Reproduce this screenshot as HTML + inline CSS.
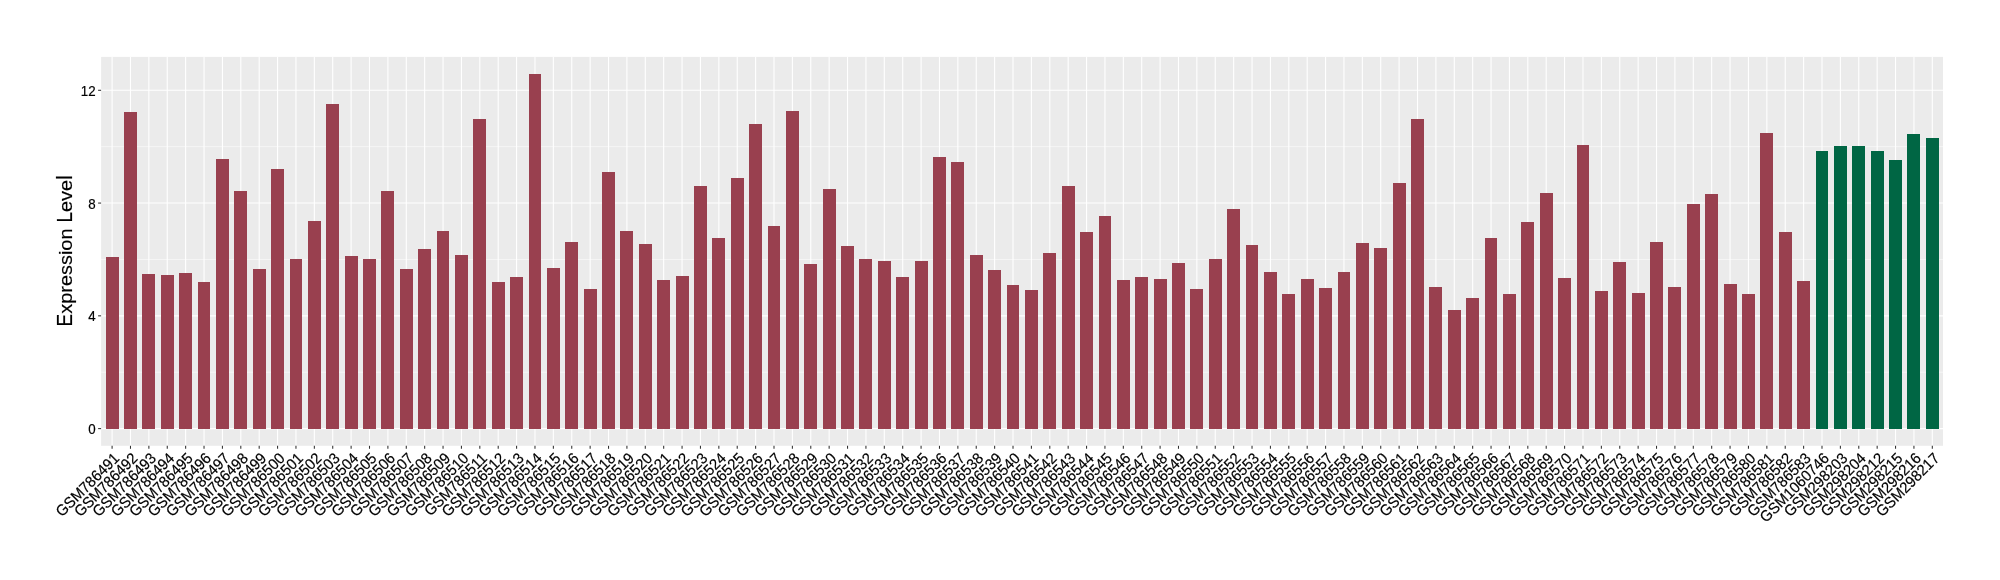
<!DOCTYPE html>
<html><head><meta charset="utf-8"><title>Expression Level</title>
<style>
html,body{margin:0;padding:0;background:#fff;}
body{width:2000px;height:580px;overflow:hidden;}
#w{will-change:transform;width:2000px;height:580px;}
svg{display:block;}
text{font-family:"Liberation Sans",sans-serif;fill:#000;stroke:#000;stroke-width:0.18px;}
.ax{font-size:13.33px;}
.axx{font-size:14.67px;}
.ti{font-size:19.90px;}
</style></head>
<body>
<div id="w">
<svg width="2000" height="580" viewBox="0 0 2000 580">
<rect x="101.10" y="56.90" width="1841.90" height="388.90" fill="#EBEBEB"/>
<g stroke="#ffffff" stroke-width="0.55">
<line x1="101.10" x2="1943.00" y1="372.22" y2="372.22"/>
<line x1="101.10" x2="1943.00" y1="259.45" y2="259.45"/>
<line x1="101.10" x2="1943.00" y1="146.68" y2="146.68"/>
</g>
<g stroke="#ffffff" stroke-width="1.1">
<line x1="101.10" x2="1943.00" y1="428.60" y2="428.60"/>
<line x1="101.10" x2="1943.00" y1="315.83" y2="315.83"/>
<line x1="101.10" x2="1943.00" y1="203.07" y2="203.07"/>
<line x1="101.10" x2="1943.00" y1="90.30" y2="90.30"/>
<line x1="112.10" x2="112.10" y1="56.90" y2="445.80"/>
<line x1="130.49" x2="130.49" y1="56.90" y2="445.80"/>
<line x1="148.87" x2="148.87" y1="56.90" y2="445.80"/>
<line x1="167.26" x2="167.26" y1="56.90" y2="445.80"/>
<line x1="185.64" x2="185.64" y1="56.90" y2="445.80"/>
<line x1="204.03" x2="204.03" y1="56.90" y2="445.80"/>
<line x1="222.42" x2="222.42" y1="56.90" y2="445.80"/>
<line x1="240.80" x2="240.80" y1="56.90" y2="445.80"/>
<line x1="259.19" x2="259.19" y1="56.90" y2="445.80"/>
<line x1="277.57" x2="277.57" y1="56.90" y2="445.80"/>
<line x1="295.96" x2="295.96" y1="56.90" y2="445.80"/>
<line x1="314.35" x2="314.35" y1="56.90" y2="445.80"/>
<line x1="332.73" x2="332.73" y1="56.90" y2="445.80"/>
<line x1="351.12" x2="351.12" y1="56.90" y2="445.80"/>
<line x1="369.50" x2="369.50" y1="56.90" y2="445.80"/>
<line x1="387.89" x2="387.89" y1="56.90" y2="445.80"/>
<line x1="406.28" x2="406.28" y1="56.90" y2="445.80"/>
<line x1="424.66" x2="424.66" y1="56.90" y2="445.80"/>
<line x1="443.05" x2="443.05" y1="56.90" y2="445.80"/>
<line x1="461.43" x2="461.43" y1="56.90" y2="445.80"/>
<line x1="479.82" x2="479.82" y1="56.90" y2="445.80"/>
<line x1="498.21" x2="498.21" y1="56.90" y2="445.80"/>
<line x1="516.59" x2="516.59" y1="56.90" y2="445.80"/>
<line x1="534.98" x2="534.98" y1="56.90" y2="445.80"/>
<line x1="553.36" x2="553.36" y1="56.90" y2="445.80"/>
<line x1="571.75" x2="571.75" y1="56.90" y2="445.80"/>
<line x1="590.14" x2="590.14" y1="56.90" y2="445.80"/>
<line x1="608.52" x2="608.52" y1="56.90" y2="445.80"/>
<line x1="626.91" x2="626.91" y1="56.90" y2="445.80"/>
<line x1="645.29" x2="645.29" y1="56.90" y2="445.80"/>
<line x1="663.68" x2="663.68" y1="56.90" y2="445.80"/>
<line x1="682.07" x2="682.07" y1="56.90" y2="445.80"/>
<line x1="700.45" x2="700.45" y1="56.90" y2="445.80"/>
<line x1="718.84" x2="718.84" y1="56.90" y2="445.80"/>
<line x1="737.22" x2="737.22" y1="56.90" y2="445.80"/>
<line x1="755.61" x2="755.61" y1="56.90" y2="445.80"/>
<line x1="774.00" x2="774.00" y1="56.90" y2="445.80"/>
<line x1="792.38" x2="792.38" y1="56.90" y2="445.80"/>
<line x1="810.77" x2="810.77" y1="56.90" y2="445.80"/>
<line x1="829.15" x2="829.15" y1="56.90" y2="445.80"/>
<line x1="847.54" x2="847.54" y1="56.90" y2="445.80"/>
<line x1="865.93" x2="865.93" y1="56.90" y2="445.80"/>
<line x1="884.31" x2="884.31" y1="56.90" y2="445.80"/>
<line x1="902.70" x2="902.70" y1="56.90" y2="445.80"/>
<line x1="921.08" x2="921.08" y1="56.90" y2="445.80"/>
<line x1="939.47" x2="939.47" y1="56.90" y2="445.80"/>
<line x1="957.86" x2="957.86" y1="56.90" y2="445.80"/>
<line x1="976.24" x2="976.24" y1="56.90" y2="445.80"/>
<line x1="994.63" x2="994.63" y1="56.90" y2="445.80"/>
<line x1="1013.01" x2="1013.01" y1="56.90" y2="445.80"/>
<line x1="1031.40" x2="1031.40" y1="56.90" y2="445.80"/>
<line x1="1049.79" x2="1049.79" y1="56.90" y2="445.80"/>
<line x1="1068.17" x2="1068.17" y1="56.90" y2="445.80"/>
<line x1="1086.56" x2="1086.56" y1="56.90" y2="445.80"/>
<line x1="1104.94" x2="1104.94" y1="56.90" y2="445.80"/>
<line x1="1123.33" x2="1123.33" y1="56.90" y2="445.80"/>
<line x1="1141.72" x2="1141.72" y1="56.90" y2="445.80"/>
<line x1="1160.10" x2="1160.10" y1="56.90" y2="445.80"/>
<line x1="1178.49" x2="1178.49" y1="56.90" y2="445.80"/>
<line x1="1196.87" x2="1196.87" y1="56.90" y2="445.80"/>
<line x1="1215.26" x2="1215.26" y1="56.90" y2="445.80"/>
<line x1="1233.65" x2="1233.65" y1="56.90" y2="445.80"/>
<line x1="1252.03" x2="1252.03" y1="56.90" y2="445.80"/>
<line x1="1270.42" x2="1270.42" y1="56.90" y2="445.80"/>
<line x1="1288.80" x2="1288.80" y1="56.90" y2="445.80"/>
<line x1="1307.19" x2="1307.19" y1="56.90" y2="445.80"/>
<line x1="1325.58" x2="1325.58" y1="56.90" y2="445.80"/>
<line x1="1343.96" x2="1343.96" y1="56.90" y2="445.80"/>
<line x1="1362.35" x2="1362.35" y1="56.90" y2="445.80"/>
<line x1="1380.73" x2="1380.73" y1="56.90" y2="445.80"/>
<line x1="1399.12" x2="1399.12" y1="56.90" y2="445.80"/>
<line x1="1417.51" x2="1417.51" y1="56.90" y2="445.80"/>
<line x1="1435.89" x2="1435.89" y1="56.90" y2="445.80"/>
<line x1="1454.28" x2="1454.28" y1="56.90" y2="445.80"/>
<line x1="1472.66" x2="1472.66" y1="56.90" y2="445.80"/>
<line x1="1491.05" x2="1491.05" y1="56.90" y2="445.80"/>
<line x1="1509.44" x2="1509.44" y1="56.90" y2="445.80"/>
<line x1="1527.82" x2="1527.82" y1="56.90" y2="445.80"/>
<line x1="1546.21" x2="1546.21" y1="56.90" y2="445.80"/>
<line x1="1564.59" x2="1564.59" y1="56.90" y2="445.80"/>
<line x1="1582.98" x2="1582.98" y1="56.90" y2="445.80"/>
<line x1="1601.37" x2="1601.37" y1="56.90" y2="445.80"/>
<line x1="1619.75" x2="1619.75" y1="56.90" y2="445.80"/>
<line x1="1638.14" x2="1638.14" y1="56.90" y2="445.80"/>
<line x1="1656.52" x2="1656.52" y1="56.90" y2="445.80"/>
<line x1="1674.91" x2="1674.91" y1="56.90" y2="445.80"/>
<line x1="1693.30" x2="1693.30" y1="56.90" y2="445.80"/>
<line x1="1711.68" x2="1711.68" y1="56.90" y2="445.80"/>
<line x1="1730.07" x2="1730.07" y1="56.90" y2="445.80"/>
<line x1="1748.45" x2="1748.45" y1="56.90" y2="445.80"/>
<line x1="1766.84" x2="1766.84" y1="56.90" y2="445.80"/>
<line x1="1785.23" x2="1785.23" y1="56.90" y2="445.80"/>
<line x1="1803.61" x2="1803.61" y1="56.90" y2="445.80"/>
<line x1="1822.00" x2="1822.00" y1="56.90" y2="445.80"/>
<line x1="1840.38" x2="1840.38" y1="56.90" y2="445.80"/>
<line x1="1858.77" x2="1858.77" y1="56.90" y2="445.80"/>
<line x1="1877.16" x2="1877.16" y1="56.90" y2="445.80"/>
<line x1="1895.54" x2="1895.54" y1="56.90" y2="445.80"/>
<line x1="1913.93" x2="1913.93" y1="56.90" y2="445.80"/>
<line x1="1932.31" x2="1932.31" y1="56.90" y2="445.80"/>
</g>
<g fill="#99404F">
<rect x="106" y="257" width="13" height="172"/>
<rect x="124" y="112" width="13" height="317"/>
<rect x="142" y="274" width="13" height="155"/>
<rect x="161" y="275" width="13" height="154"/>
<rect x="179" y="273" width="13" height="156"/>
<rect x="198" y="282" width="12" height="147"/>
<rect x="216" y="159" width="13" height="270"/>
<rect x="234" y="191" width="13" height="238"/>
<rect x="253" y="269" width="13" height="160"/>
<rect x="271" y="169" width="13" height="260"/>
<rect x="290" y="259" width="12" height="170"/>
<rect x="308" y="221" width="13" height="208"/>
<rect x="326" y="104" width="13" height="325"/>
<rect x="345" y="256" width="13" height="173"/>
<rect x="363" y="259" width="13" height="170"/>
<rect x="381" y="191" width="13" height="238"/>
<rect x="400" y="269" width="13" height="160"/>
<rect x="418" y="249" width="13" height="180"/>
<rect x="437" y="231" width="12" height="198"/>
<rect x="455" y="255" width="13" height="174"/>
<rect x="473" y="119" width="13" height="310"/>
<rect x="492" y="282" width="13" height="147"/>
<rect x="510" y="277" width="13" height="152"/>
<rect x="529" y="74" width="12" height="355"/>
<rect x="547" y="268" width="13" height="161"/>
<rect x="565" y="242" width="13" height="187"/>
<rect x="584" y="289" width="13" height="140"/>
<rect x="602" y="172" width="13" height="257"/>
<rect x="620" y="231" width="13" height="198"/>
<rect x="639" y="244" width="13" height="185"/>
<rect x="657" y="280" width="13" height="149"/>
<rect x="676" y="276" width="13" height="153"/>
<rect x="694" y="186" width="13" height="243"/>
<rect x="712" y="238" width="13" height="191"/>
<rect x="731" y="178" width="13" height="251"/>
<rect x="749" y="124" width="13" height="305"/>
<rect x="768" y="226" width="12" height="203"/>
<rect x="786" y="111" width="13" height="318"/>
<rect x="804" y="264" width="13" height="165"/>
<rect x="823" y="189" width="13" height="240"/>
<rect x="841" y="246" width="13" height="183"/>
<rect x="859" y="259" width="13" height="170"/>
<rect x="878" y="261" width="13" height="168"/>
<rect x="896" y="277" width="13" height="152"/>
<rect x="915" y="261" width="13" height="168"/>
<rect x="933" y="157" width="13" height="272"/>
<rect x="951" y="162" width="13" height="267"/>
<rect x="970" y="255" width="13" height="174"/>
<rect x="988" y="270" width="13" height="159"/>
<rect x="1007" y="285" width="12" height="144"/>
<rect x="1025" y="290" width="13" height="139"/>
<rect x="1043" y="253" width="13" height="176"/>
<rect x="1062" y="186" width="13" height="243"/>
<rect x="1080" y="232" width="13" height="197"/>
<rect x="1099" y="216" width="12" height="213"/>
<rect x="1117" y="280" width="13" height="149"/>
<rect x="1135" y="277" width="13" height="152"/>
<rect x="1154" y="279" width="13" height="150"/>
<rect x="1172" y="263" width="13" height="166"/>
<rect x="1190" y="289" width="13" height="140"/>
<rect x="1209" y="259" width="13" height="170"/>
<rect x="1227" y="209" width="13" height="220"/>
<rect x="1246" y="245" width="12" height="184"/>
<rect x="1264" y="272" width="13" height="157"/>
<rect x="1282" y="294" width="13" height="135"/>
<rect x="1301" y="279" width="13" height="150"/>
<rect x="1319" y="288" width="13" height="141"/>
<rect x="1338" y="272" width="12" height="157"/>
<rect x="1356" y="243" width="13" height="186"/>
<rect x="1374" y="248" width="13" height="181"/>
<rect x="1393" y="183" width="13" height="246"/>
<rect x="1411" y="119" width="13" height="310"/>
<rect x="1429" y="287" width="13" height="142"/>
<rect x="1448" y="310" width="13" height="119"/>
<rect x="1466" y="298" width="13" height="131"/>
<rect x="1485" y="238" width="12" height="191"/>
<rect x="1503" y="294" width="13" height="135"/>
<rect x="1521" y="222" width="13" height="207"/>
<rect x="1540" y="193" width="13" height="236"/>
<rect x="1558" y="278" width="13" height="151"/>
<rect x="1577" y="145" width="12" height="284"/>
<rect x="1595" y="291" width="13" height="138"/>
<rect x="1613" y="262" width="13" height="167"/>
<rect x="1632" y="293" width="13" height="136"/>
<rect x="1650" y="242" width="13" height="187"/>
<rect x="1668" y="287" width="13" height="142"/>
<rect x="1687" y="204" width="13" height="225"/>
<rect x="1705" y="194" width="13" height="235"/>
<rect x="1724" y="284" width="13" height="145"/>
<rect x="1742" y="294" width="13" height="135"/>
<rect x="1760" y="133" width="13" height="296"/>
<rect x="1779" y="232" width="13" height="197"/>
<rect x="1797" y="281" width="13" height="148"/>
</g>
<g fill="#006644">
<rect x="1816" y="151" width="12" height="278"/>
<rect x="1834" y="146" width="13" height="283"/>
<rect x="1852" y="146" width="13" height="283"/>
<rect x="1871" y="151" width="13" height="278"/>
<rect x="1889" y="160" width="13" height="269"/>
<rect x="1907" y="134" width="13" height="295"/>
<rect x="1926" y="138" width="13" height="291"/>
</g>
<g stroke="#333333" stroke-width="1.07">
<line x1="98.10" x2="101.10" y1="428.60" y2="428.60"/>
<line x1="98.10" x2="101.10" y1="315.83" y2="315.83"/>
<line x1="98.10" x2="101.10" y1="203.07" y2="203.07"/>
<line x1="98.10" x2="101.10" y1="90.30" y2="90.30"/>
<line x1="112.10" x2="112.10" y1="445.80" y2="448.80"/>
<line x1="130.49" x2="130.49" y1="445.80" y2="448.80"/>
<line x1="148.87" x2="148.87" y1="445.80" y2="448.80"/>
<line x1="167.26" x2="167.26" y1="445.80" y2="448.80"/>
<line x1="185.64" x2="185.64" y1="445.80" y2="448.80"/>
<line x1="204.03" x2="204.03" y1="445.80" y2="448.80"/>
<line x1="222.42" x2="222.42" y1="445.80" y2="448.80"/>
<line x1="240.80" x2="240.80" y1="445.80" y2="448.80"/>
<line x1="259.19" x2="259.19" y1="445.80" y2="448.80"/>
<line x1="277.57" x2="277.57" y1="445.80" y2="448.80"/>
<line x1="295.96" x2="295.96" y1="445.80" y2="448.80"/>
<line x1="314.35" x2="314.35" y1="445.80" y2="448.80"/>
<line x1="332.73" x2="332.73" y1="445.80" y2="448.80"/>
<line x1="351.12" x2="351.12" y1="445.80" y2="448.80"/>
<line x1="369.50" x2="369.50" y1="445.80" y2="448.80"/>
<line x1="387.89" x2="387.89" y1="445.80" y2="448.80"/>
<line x1="406.28" x2="406.28" y1="445.80" y2="448.80"/>
<line x1="424.66" x2="424.66" y1="445.80" y2="448.80"/>
<line x1="443.05" x2="443.05" y1="445.80" y2="448.80"/>
<line x1="461.43" x2="461.43" y1="445.80" y2="448.80"/>
<line x1="479.82" x2="479.82" y1="445.80" y2="448.80"/>
<line x1="498.21" x2="498.21" y1="445.80" y2="448.80"/>
<line x1="516.59" x2="516.59" y1="445.80" y2="448.80"/>
<line x1="534.98" x2="534.98" y1="445.80" y2="448.80"/>
<line x1="553.36" x2="553.36" y1="445.80" y2="448.80"/>
<line x1="571.75" x2="571.75" y1="445.80" y2="448.80"/>
<line x1="590.14" x2="590.14" y1="445.80" y2="448.80"/>
<line x1="608.52" x2="608.52" y1="445.80" y2="448.80"/>
<line x1="626.91" x2="626.91" y1="445.80" y2="448.80"/>
<line x1="645.29" x2="645.29" y1="445.80" y2="448.80"/>
<line x1="663.68" x2="663.68" y1="445.80" y2="448.80"/>
<line x1="682.07" x2="682.07" y1="445.80" y2="448.80"/>
<line x1="700.45" x2="700.45" y1="445.80" y2="448.80"/>
<line x1="718.84" x2="718.84" y1="445.80" y2="448.80"/>
<line x1="737.22" x2="737.22" y1="445.80" y2="448.80"/>
<line x1="755.61" x2="755.61" y1="445.80" y2="448.80"/>
<line x1="774.00" x2="774.00" y1="445.80" y2="448.80"/>
<line x1="792.38" x2="792.38" y1="445.80" y2="448.80"/>
<line x1="810.77" x2="810.77" y1="445.80" y2="448.80"/>
<line x1="829.15" x2="829.15" y1="445.80" y2="448.80"/>
<line x1="847.54" x2="847.54" y1="445.80" y2="448.80"/>
<line x1="865.93" x2="865.93" y1="445.80" y2="448.80"/>
<line x1="884.31" x2="884.31" y1="445.80" y2="448.80"/>
<line x1="902.70" x2="902.70" y1="445.80" y2="448.80"/>
<line x1="921.08" x2="921.08" y1="445.80" y2="448.80"/>
<line x1="939.47" x2="939.47" y1="445.80" y2="448.80"/>
<line x1="957.86" x2="957.86" y1="445.80" y2="448.80"/>
<line x1="976.24" x2="976.24" y1="445.80" y2="448.80"/>
<line x1="994.63" x2="994.63" y1="445.80" y2="448.80"/>
<line x1="1013.01" x2="1013.01" y1="445.80" y2="448.80"/>
<line x1="1031.40" x2="1031.40" y1="445.80" y2="448.80"/>
<line x1="1049.79" x2="1049.79" y1="445.80" y2="448.80"/>
<line x1="1068.17" x2="1068.17" y1="445.80" y2="448.80"/>
<line x1="1086.56" x2="1086.56" y1="445.80" y2="448.80"/>
<line x1="1104.94" x2="1104.94" y1="445.80" y2="448.80"/>
<line x1="1123.33" x2="1123.33" y1="445.80" y2="448.80"/>
<line x1="1141.72" x2="1141.72" y1="445.80" y2="448.80"/>
<line x1="1160.10" x2="1160.10" y1="445.80" y2="448.80"/>
<line x1="1178.49" x2="1178.49" y1="445.80" y2="448.80"/>
<line x1="1196.87" x2="1196.87" y1="445.80" y2="448.80"/>
<line x1="1215.26" x2="1215.26" y1="445.80" y2="448.80"/>
<line x1="1233.65" x2="1233.65" y1="445.80" y2="448.80"/>
<line x1="1252.03" x2="1252.03" y1="445.80" y2="448.80"/>
<line x1="1270.42" x2="1270.42" y1="445.80" y2="448.80"/>
<line x1="1288.80" x2="1288.80" y1="445.80" y2="448.80"/>
<line x1="1307.19" x2="1307.19" y1="445.80" y2="448.80"/>
<line x1="1325.58" x2="1325.58" y1="445.80" y2="448.80"/>
<line x1="1343.96" x2="1343.96" y1="445.80" y2="448.80"/>
<line x1="1362.35" x2="1362.35" y1="445.80" y2="448.80"/>
<line x1="1380.73" x2="1380.73" y1="445.80" y2="448.80"/>
<line x1="1399.12" x2="1399.12" y1="445.80" y2="448.80"/>
<line x1="1417.51" x2="1417.51" y1="445.80" y2="448.80"/>
<line x1="1435.89" x2="1435.89" y1="445.80" y2="448.80"/>
<line x1="1454.28" x2="1454.28" y1="445.80" y2="448.80"/>
<line x1="1472.66" x2="1472.66" y1="445.80" y2="448.80"/>
<line x1="1491.05" x2="1491.05" y1="445.80" y2="448.80"/>
<line x1="1509.44" x2="1509.44" y1="445.80" y2="448.80"/>
<line x1="1527.82" x2="1527.82" y1="445.80" y2="448.80"/>
<line x1="1546.21" x2="1546.21" y1="445.80" y2="448.80"/>
<line x1="1564.59" x2="1564.59" y1="445.80" y2="448.80"/>
<line x1="1582.98" x2="1582.98" y1="445.80" y2="448.80"/>
<line x1="1601.37" x2="1601.37" y1="445.80" y2="448.80"/>
<line x1="1619.75" x2="1619.75" y1="445.80" y2="448.80"/>
<line x1="1638.14" x2="1638.14" y1="445.80" y2="448.80"/>
<line x1="1656.52" x2="1656.52" y1="445.80" y2="448.80"/>
<line x1="1674.91" x2="1674.91" y1="445.80" y2="448.80"/>
<line x1="1693.30" x2="1693.30" y1="445.80" y2="448.80"/>
<line x1="1711.68" x2="1711.68" y1="445.80" y2="448.80"/>
<line x1="1730.07" x2="1730.07" y1="445.80" y2="448.80"/>
<line x1="1748.45" x2="1748.45" y1="445.80" y2="448.80"/>
<line x1="1766.84" x2="1766.84" y1="445.80" y2="448.80"/>
<line x1="1785.23" x2="1785.23" y1="445.80" y2="448.80"/>
<line x1="1803.61" x2="1803.61" y1="445.80" y2="448.80"/>
<line x1="1822.00" x2="1822.00" y1="445.80" y2="448.80"/>
<line x1="1840.38" x2="1840.38" y1="445.80" y2="448.80"/>
<line x1="1858.77" x2="1858.77" y1="445.80" y2="448.80"/>
<line x1="1877.16" x2="1877.16" y1="445.80" y2="448.80"/>
<line x1="1895.54" x2="1895.54" y1="445.80" y2="448.80"/>
<line x1="1913.93" x2="1913.93" y1="445.80" y2="448.80"/>
<line x1="1932.31" x2="1932.31" y1="445.80" y2="448.80"/>
</g>
<g class="ax" text-anchor="end">
<text transform="translate(95.6,434.10) scale(1,1.07)">0</text>
<text transform="translate(95.6,321.33) scale(1,1.07)">4</text>
<text transform="translate(95.6,208.57) scale(1,1.07)">8</text>
<text transform="translate(95.6,95.80) scale(1,1.07)">12</text>
</g>
<g class="axx" text-anchor="end">
<text transform="translate(120.20,459.30) rotate(-45) scale(1,1.05)">GSM786491</text>
<text transform="translate(138.59,459.30) rotate(-45) scale(1,1.05)">GSM786492</text>
<text transform="translate(156.97,459.30) rotate(-45) scale(1,1.05)">GSM786493</text>
<text transform="translate(175.36,459.30) rotate(-45) scale(1,1.05)">GSM786494</text>
<text transform="translate(193.74,459.30) rotate(-45) scale(1,1.05)">GSM786495</text>
<text transform="translate(212.13,459.30) rotate(-45) scale(1,1.05)">GSM786496</text>
<text transform="translate(230.52,459.30) rotate(-45) scale(1,1.05)">GSM786497</text>
<text transform="translate(248.90,459.30) rotate(-45) scale(1,1.05)">GSM786498</text>
<text transform="translate(267.29,459.30) rotate(-45) scale(1,1.05)">GSM786499</text>
<text transform="translate(285.67,459.30) rotate(-45) scale(1,1.05)">GSM786500</text>
<text transform="translate(304.06,459.30) rotate(-45) scale(1,1.05)">GSM786501</text>
<text transform="translate(322.45,459.30) rotate(-45) scale(1,1.05)">GSM786502</text>
<text transform="translate(340.83,459.30) rotate(-45) scale(1,1.05)">GSM786503</text>
<text transform="translate(359.22,459.30) rotate(-45) scale(1,1.05)">GSM786504</text>
<text transform="translate(377.60,459.30) rotate(-45) scale(1,1.05)">GSM786505</text>
<text transform="translate(395.99,459.30) rotate(-45) scale(1,1.05)">GSM786506</text>
<text transform="translate(414.38,459.30) rotate(-45) scale(1,1.05)">GSM786507</text>
<text transform="translate(432.76,459.30) rotate(-45) scale(1,1.05)">GSM786508</text>
<text transform="translate(451.15,459.30) rotate(-45) scale(1,1.05)">GSM786509</text>
<text transform="translate(469.53,459.30) rotate(-45) scale(1,1.05)">GSM786510</text>
<text transform="translate(487.92,459.30) rotate(-45) scale(1,1.05)">GSM786511</text>
<text transform="translate(506.31,459.30) rotate(-45) scale(1,1.05)">GSM786512</text>
<text transform="translate(524.69,459.30) rotate(-45) scale(1,1.05)">GSM786513</text>
<text transform="translate(543.08,459.30) rotate(-45) scale(1,1.05)">GSM786514</text>
<text transform="translate(561.46,459.30) rotate(-45) scale(1,1.05)">GSM786515</text>
<text transform="translate(579.85,459.30) rotate(-45) scale(1,1.05)">GSM786516</text>
<text transform="translate(598.24,459.30) rotate(-45) scale(1,1.05)">GSM786517</text>
<text transform="translate(616.62,459.30) rotate(-45) scale(1,1.05)">GSM786518</text>
<text transform="translate(635.01,459.30) rotate(-45) scale(1,1.05)">GSM786519</text>
<text transform="translate(653.39,459.30) rotate(-45) scale(1,1.05)">GSM786520</text>
<text transform="translate(671.78,459.30) rotate(-45) scale(1,1.05)">GSM786521</text>
<text transform="translate(690.17,459.30) rotate(-45) scale(1,1.05)">GSM786522</text>
<text transform="translate(708.55,459.30) rotate(-45) scale(1,1.05)">GSM786523</text>
<text transform="translate(726.94,459.30) rotate(-45) scale(1,1.05)">GSM786524</text>
<text transform="translate(745.32,459.30) rotate(-45) scale(1,1.05)">GSM786525</text>
<text transform="translate(763.71,459.30) rotate(-45) scale(1,1.05)">GSM786526</text>
<text transform="translate(782.10,459.30) rotate(-45) scale(1,1.05)">GSM786527</text>
<text transform="translate(800.48,459.30) rotate(-45) scale(1,1.05)">GSM786528</text>
<text transform="translate(818.87,459.30) rotate(-45) scale(1,1.05)">GSM786529</text>
<text transform="translate(837.25,459.30) rotate(-45) scale(1,1.05)">GSM786530</text>
<text transform="translate(855.64,459.30) rotate(-45) scale(1,1.05)">GSM786531</text>
<text transform="translate(874.03,459.30) rotate(-45) scale(1,1.05)">GSM786532</text>
<text transform="translate(892.41,459.30) rotate(-45) scale(1,1.05)">GSM786533</text>
<text transform="translate(910.80,459.30) rotate(-45) scale(1,1.05)">GSM786534</text>
<text transform="translate(929.18,459.30) rotate(-45) scale(1,1.05)">GSM786535</text>
<text transform="translate(947.57,459.30) rotate(-45) scale(1,1.05)">GSM786536</text>
<text transform="translate(965.96,459.30) rotate(-45) scale(1,1.05)">GSM786537</text>
<text transform="translate(984.34,459.30) rotate(-45) scale(1,1.05)">GSM786538</text>
<text transform="translate(1002.73,459.30) rotate(-45) scale(1,1.05)">GSM786539</text>
<text transform="translate(1021.11,459.30) rotate(-45) scale(1,1.05)">GSM786540</text>
<text transform="translate(1039.50,459.30) rotate(-45) scale(1,1.05)">GSM786541</text>
<text transform="translate(1057.89,459.30) rotate(-45) scale(1,1.05)">GSM786542</text>
<text transform="translate(1076.27,459.30) rotate(-45) scale(1,1.05)">GSM786543</text>
<text transform="translate(1094.66,459.30) rotate(-45) scale(1,1.05)">GSM786544</text>
<text transform="translate(1113.04,459.30) rotate(-45) scale(1,1.05)">GSM786545</text>
<text transform="translate(1131.43,459.30) rotate(-45) scale(1,1.05)">GSM786546</text>
<text transform="translate(1149.82,459.30) rotate(-45) scale(1,1.05)">GSM786547</text>
<text transform="translate(1168.20,459.30) rotate(-45) scale(1,1.05)">GSM786548</text>
<text transform="translate(1186.59,459.30) rotate(-45) scale(1,1.05)">GSM786549</text>
<text transform="translate(1204.97,459.30) rotate(-45) scale(1,1.05)">GSM786550</text>
<text transform="translate(1223.36,459.30) rotate(-45) scale(1,1.05)">GSM786551</text>
<text transform="translate(1241.75,459.30) rotate(-45) scale(1,1.05)">GSM786552</text>
<text transform="translate(1260.13,459.30) rotate(-45) scale(1,1.05)">GSM786553</text>
<text transform="translate(1278.52,459.30) rotate(-45) scale(1,1.05)">GSM786554</text>
<text transform="translate(1296.90,459.30) rotate(-45) scale(1,1.05)">GSM786555</text>
<text transform="translate(1315.29,459.30) rotate(-45) scale(1,1.05)">GSM786556</text>
<text transform="translate(1333.68,459.30) rotate(-45) scale(1,1.05)">GSM786557</text>
<text transform="translate(1352.06,459.30) rotate(-45) scale(1,1.05)">GSM786558</text>
<text transform="translate(1370.45,459.30) rotate(-45) scale(1,1.05)">GSM786559</text>
<text transform="translate(1388.83,459.30) rotate(-45) scale(1,1.05)">GSM786560</text>
<text transform="translate(1407.22,459.30) rotate(-45) scale(1,1.05)">GSM786561</text>
<text transform="translate(1425.61,459.30) rotate(-45) scale(1,1.05)">GSM786562</text>
<text transform="translate(1443.99,459.30) rotate(-45) scale(1,1.05)">GSM786563</text>
<text transform="translate(1462.38,459.30) rotate(-45) scale(1,1.05)">GSM786564</text>
<text transform="translate(1480.76,459.30) rotate(-45) scale(1,1.05)">GSM786565</text>
<text transform="translate(1499.15,459.30) rotate(-45) scale(1,1.05)">GSM786566</text>
<text transform="translate(1517.54,459.30) rotate(-45) scale(1,1.05)">GSM786567</text>
<text transform="translate(1535.92,459.30) rotate(-45) scale(1,1.05)">GSM786568</text>
<text transform="translate(1554.31,459.30) rotate(-45) scale(1,1.05)">GSM786569</text>
<text transform="translate(1572.69,459.30) rotate(-45) scale(1,1.05)">GSM786570</text>
<text transform="translate(1591.08,459.30) rotate(-45) scale(1,1.05)">GSM786571</text>
<text transform="translate(1609.47,459.30) rotate(-45) scale(1,1.05)">GSM786572</text>
<text transform="translate(1627.85,459.30) rotate(-45) scale(1,1.05)">GSM786573</text>
<text transform="translate(1646.24,459.30) rotate(-45) scale(1,1.05)">GSM786574</text>
<text transform="translate(1664.62,459.30) rotate(-45) scale(1,1.05)">GSM786575</text>
<text transform="translate(1683.01,459.30) rotate(-45) scale(1,1.05)">GSM786576</text>
<text transform="translate(1701.40,459.30) rotate(-45) scale(1,1.05)">GSM786577</text>
<text transform="translate(1719.78,459.30) rotate(-45) scale(1,1.05)">GSM786578</text>
<text transform="translate(1738.17,459.30) rotate(-45) scale(1,1.05)">GSM786579</text>
<text transform="translate(1756.55,459.30) rotate(-45) scale(1,1.05)">GSM786580</text>
<text transform="translate(1774.94,459.30) rotate(-45) scale(1,1.05)">GSM786581</text>
<text transform="translate(1793.33,459.30) rotate(-45) scale(1,1.05)">GSM786582</text>
<text transform="translate(1811.71,459.30) rotate(-45) scale(1,1.05)">GSM786583</text>
<text transform="translate(1830.10,459.30) rotate(-45) scale(1,1.05)">GSM1060746</text>
<text transform="translate(1848.48,459.30) rotate(-45) scale(1,1.05)">GSM298203</text>
<text transform="translate(1866.87,459.30) rotate(-45) scale(1,1.05)">GSM298204</text>
<text transform="translate(1885.26,459.30) rotate(-45) scale(1,1.05)">GSM298212</text>
<text transform="translate(1903.64,459.30) rotate(-45) scale(1,1.05)">GSM298215</text>
<text transform="translate(1922.03,459.30) rotate(-45) scale(1,1.05)">GSM298216</text>
<text transform="translate(1940.41,459.30) rotate(-45) scale(1,1.05)">GSM298217</text>
</g>
<g class="ti" transform="translate(72.00,251.20) rotate(-90)">
<text transform="translate(-75.26,0) scale(0.95,1.135)">E</text>
<text transform="translate(-62.49,0) scale(1.00,0.960)">xpression </text>
<text transform="translate(28.70,0) scale(0.95,1.135)">L</text>
<text transform="translate(39.26,0) scale(1.00,0.960)">eve</text>
<text transform="translate(71.34,0) scale(1.00,1.085)">l</text>
</g>
</svg>
</div>
</body></html>
